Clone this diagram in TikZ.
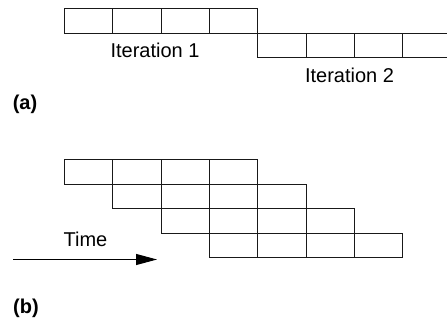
\documentclass[tikz,border=0pt]{standalone}
\usepackage{fontspec}
\setmainfont{Liberation Sans}
\usetikzlibrary{arrows.meta}
\begin{document}
\begin{tikzpicture}[x=1pt,y=-1pt,
  cell/.style={draw=black!90, line width=1.1pt, rectangle, minimum width=48.3pt, minimum height=24.5pt, inner sep=0pt, anchor=north west},
  lbl/.style={font=\fontsize{20}{24}\selectfont, inner sep=0pt, anchor=base},
  panel/.style={font=\fontsize{20}{24}\selectfont\bfseries, inner sep=0pt, anchor=base}]
\useasboundingbox (0,0) rectangle (447,321);
\begin{scope}
\clip (0,0) rectangle (447,321);
% (a)
\foreach \i in {0,...,3} {
  \node[cell] (a1\i) at ({64+48.3*\i},8.2) {};
  \node[cell] (a2\i) at ({257.2+48.3*\i},32.7) {};
}
% (b)
\foreach \r in {0,...,3} {
  \foreach \i in {0,...,3} {
    \node[cell] (b\r\i) at ({64+48.3*(\r+\i)},{159.3+24.5*\r}) {};
  }
}
\end{scope}
\node[lbl] (it1) at (155,57.3) {Iteration 1};
\node[lbl] (it2) at (349.5,82.5) {Iteration 2};
\node[panel] (pa) at (25,110) {(a)};
\node[lbl] (time) at (85.5,246) {Time};
\coordinate (t0) at (13,259.5);
\coordinate (t1) at (157,259.5);
\draw[line width=1pt, -{Triangle[length=21pt,width=11pt]}] (t0) -- (t1);
\node[panel] (pb) at (26,313.5) {(b)};
\end{tikzpicture}
\end{document}
